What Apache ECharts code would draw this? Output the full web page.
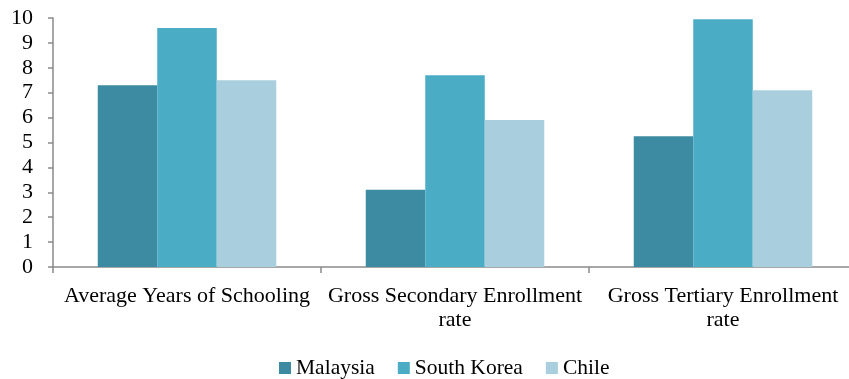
<!DOCTYPE html>
<html>
<head>
<meta charset="utf-8">
<script src="https://cdn.jsdelivr.net/npm/echarts@6/dist/echarts.min.js"></script>
<style>
  html, body { margin: 0; padding: 0; background: #fff; }
  #chart { width: 849px; height: 379px; }
</style>
</head>
<body>
<div id="chart"></div>
<script>
// Education indicators, three countries
const categories = [
  'Average Years of Schooling',
  'Gross Secondary Enrollment\nrate',
  'Gross Tertiary Enrollment\nrate'
];
const malaysia = [7.3, 3.1, 5.25];
const southKorea = [9.6, 7.7, 9.95];
const chile = [7.5, 5.9, 7.1];
const yTicks = [0, 1, 2, 3, 4, 5, 6, 7, 8, 9, 10];

const FONT = '"Liberation Serif", "DejaVu Serif", serif';
const AXIS_GRAY = '#8a8a8a';

const chart = echarts.init(document.getElementById('chart'), null, { renderer: 'canvas' });

function barSeries(name, data, color) {
  return {
    name: name,
    type: 'bar',
    data: data,
    barGap: '0%',
    barCategoryGap: '33.4%',
    itemStyle: { color: color },
    emphasis: { disabled: true }
  };
}

chart.setOption({
  animation: false,
  textStyle: { fontFamily: FONT },
  // plot area runs slightly past the right edge of the canvas
  grid: {
    left: 53, width: 804, top: 18, height: 249,
    containLabel: false,
    outerBoundsMode: 'none'
  },
  legend: {
    left: 274,
    top: 352,
    itemWidth: 12,
    itemHeight: 12,
    itemGap: 23,
    icon: 'rect',
    textStyle: { fontFamily: FONT, fontSize: 21.5, color: '#000' },
    data: ['Malaysia', 'South Korea', 'Chile']
  },
  xAxis: {
    type: 'category',
    data: categories,
    axisLine: { show: true, lineStyle: { color: AXIS_GRAY, width: 1.5 } },
    axisTick: { show: true, length: 6, lineStyle: { color: AXIS_GRAY, width: 1.5 } },
    axisLabel: {
      interval: 0,
      margin: 17,
      fontFamily: FONT,
      fontSize: 22,
      lineHeight: 24,
      color: '#000',
      align: 'center'
    },
    splitLine: { show: false }
  },
  yAxis: {
    type: 'value',
    min: yTicks[0],
    max: yTicks[yTicks.length - 1],
    interval: 1,
    axisLine: { show: true, lineStyle: { color: AXIS_GRAY, width: 1.5 } },
    axisTick: { show: true, length: 5, lineStyle: { color: AXIS_GRAY, width: 1.5 } },
    axisLabel: {
      margin: 20,
      fontFamily: FONT,
      fontSize: 22,
      color: '#000'
    },
    splitLine: { show: false }
  },
  series: [
    barSeries('Malaysia', malaysia, '#3d8ba2'),
    barSeries('South Korea', southKorea, '#4bacc6'),
    barSeries('Chile', chile, '#a9cfde')
  ]
});
</script>
</body>
</html>
